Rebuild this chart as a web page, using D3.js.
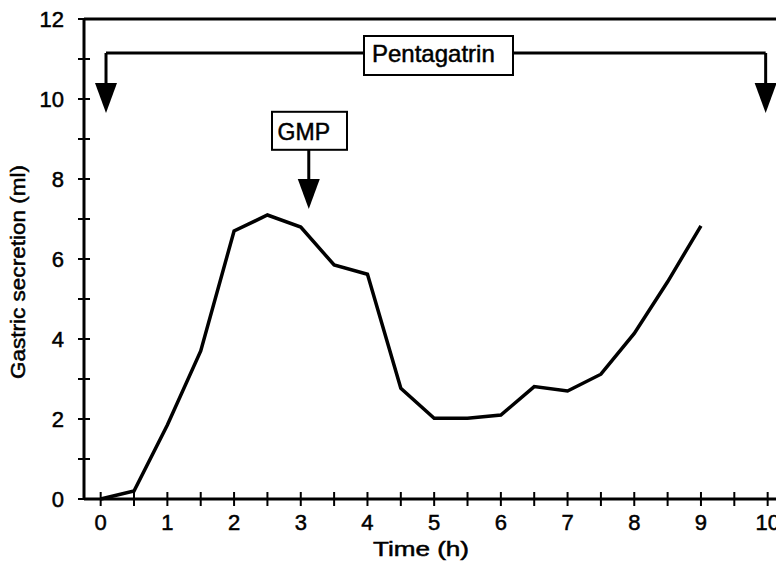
<!DOCTYPE html>
<html>
<head>
<meta charset="utf-8">
<script src="https://cdn.jsdelivr.net/npm/d3@7"></script>
<style>
  body { margin: 0; background: #fff; }
  text { font-family: "Liberation Sans", Arial, sans-serif; fill: #000; stroke: #000; stroke-width: 0.5px; }
</style>
</head>
<body>
<div id="chart"></div>
<script>
// data
let times = [0, 0.5, 1, 1.5, 2, 2.5, 3, 3.5, 4, 4.5, 5, 5.5, 6, 6.5, 7, 7.5, 8, 8.5, 9]
let secretion = [0, 0.2, 1.85, 3.7, 6.7, 7.1, 6.8, 5.85, 5.62, 2.77, 2.02, 2.02, 2.1, 2.81, 2.7, 3.12, 4.14, 5.43, 6.83]
let xTickLabels = [0, 1, 2, 3, 4, 5, 6, 7, 8, 9, 10]
let yTickLabels = [0, 2, 4, 6, 8, 10, 12]

// annotations (hours / ml)
let pentaStart = 0.08, pentaEnd = 9.97, pentaLevel = 11.15, pentaTip = 9.65
let gmpAt = 3.12, gmpTop = 9.68, gmpBottom = 8.73, gmpTip = 7.25

const width = 776, height = 562

let svg = d3.select("#chart")
    .append("svg")
    .attr("width", width)
    .attr("height", height)

let x = d3.scaleLinear().domain([-0.25, 10.2]).range([84, 781])
let y = d3.scaleLinear().domain([0, 12]).range([499, 19])

// x axis line + ticks every half hour, crossing the line
svg.append("line")
    .attr("x1", x(-0.25)).attr("x2", width)
    .attr("y1", y(0)).attr("y2", y(0))
    .attr("stroke", "black").attr("stroke-width", 3)

svg.selectAll(".xtick")
    .data(d3.range(0, 10.01, 0.5))
    .enter().append("line")
    .attr("x1", d => x(d)).attr("x2", d => x(d))
    .attr("y1", y(0) - 7).attr("y2", y(0) + 7)
    .attr("stroke", "black").attr("stroke-width", 2)

svg.selectAll(".xlab")
    .data(xTickLabels)
    .enter().append("text")
    .attr("x", d => x(d))
    .attr("y", 530)
    .attr("text-anchor", "middle")
    .style("font-size", "22px")
    .text(d => d)

// y axis + top frame
svg.append("line")
    .attr("x1", x(-0.25)).attr("x2", x(-0.25))
    .attr("y1", y(12)).attr("y2", y(0))
    .attr("stroke", "black").attr("stroke-width", 3)
svg.append("line")
    .attr("x1", x(-0.25)).attr("x2", width)
    .attr("y1", y(12)).attr("y2", y(12))
    .attr("stroke", "black").attr("stroke-width", 3)

svg.selectAll(".ytick")
    .data(d3.range(0, 12.01, 1))
    .enter().append("line")
    .attr("x1", x(-0.25) - 6).attr("x2", x(-0.25) + 6)
    .attr("y1", d => y(d)).attr("y2", d => y(d))
    .attr("stroke", "black").attr("stroke-width", 2)

svg.selectAll(".ylab")
    .data(yTickLabels)
    .enter().append("text")
    .attr("x", 64)
    .attr("y", d => y(d) + 8)
    .attr("text-anchor", "end")
    .style("font-size", "22px")
    .text(d => d)

// axis titles
svg.append("text")
    .attr("x", 421).attr("y", 556)
    .attr("text-anchor", "middle")
    .attr("textLength", 96).attr("lengthAdjust", "spacingAndGlyphs")
    .style("font-size", "20px")
    .text("Time (h)")

svg.append("text")
    .attr("transform", "translate(25, 272) rotate(-90)")
    .attr("text-anchor", "middle")
    .attr("textLength", 214).attr("lengthAdjust", "spacingAndGlyphs")
    .style("font-size", "20px")
    .text("Gastric secretion (ml)")

// the curve
let line = d3.line()
    .x((d, i) => x(times[i]))
    .y(d => y(d))

svg.append("path")
    .datum(secretion)
    .attr("d", line)
    .attr("fill", "none")
    .attr("stroke", "black")
    .attr("stroke-width", 3.5)
    .attr("stroke-linejoin", "miter")

// arrow helper
function arrow(hx, yFrom, yTip) {
    svg.append("line")
        .attr("x1", x(hx)).attr("x2", x(hx))
        .attr("y1", y(yFrom)).attr("y2", y(yTip) - 25)
        .attr("stroke", "black").attr("stroke-width", 3)
    svg.append("path")
        .attr("d", `M${x(hx) - 11},${y(yTip) - 30} L${x(hx) + 11},${y(yTip) - 30} L${x(hx)},${y(yTip)} Z`)
        .attr("fill", "black")
}

// Pentagatrin bracket
svg.append("line")
    .attr("x1", x(pentaStart)).attr("x2", x(pentaEnd))
    .attr("y1", y(pentaLevel)).attr("y2", y(pentaLevel))
    .attr("stroke", "black").attr("stroke-width", 3)
arrow(pentaStart, pentaLevel, pentaTip)
arrow(pentaEnd, pentaLevel, pentaTip)

let pentaBox = svg.append("g")
pentaBox.append("rect")
    .attr("x", 364).attr("y", 36).attr("width", 149).attr("height", 39)
    .attr("fill", "white").attr("stroke", "black").attr("stroke-width", 2)
pentaBox.append("text")
    .attr("x", 372).attr("y", 62)
    .style("font-size", "24px")
    .text("Pentagatrin")

// GMP
arrow(gmpAt, gmpBottom, gmpTip)
svg.append("rect")
    .attr("x", 272).attr("y", y(gmpTop)).attr("width", 75).attr("height", y(gmpBottom) - y(gmpTop))
    .attr("fill", "white").attr("stroke", "black").attr("stroke-width", 2)
svg.append("text")
    .attr("x", x(gmpAt) - 5).attr("y", y(gmpTop) + 28)
    .attr("text-anchor", "middle")
    .style("font-size", "23px")
    .text("GMP")
</script>
</body>
</html>
